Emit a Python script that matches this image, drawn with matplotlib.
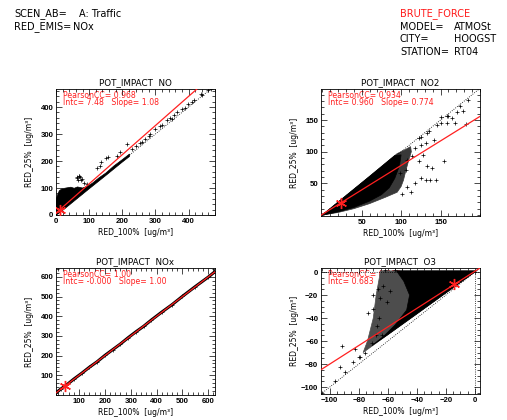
import matplotlib
matplotlib.use('Agg')
import matplotlib.pyplot as plt
from matplotlib.ticker import AutoMinorLocator

plt.rcParams['font.family'] = ['DejaVu Sans']

# ---------------- data ----------------
header_left = [("SCEN_AB=", "A: Traffic"), ("RED_EMIS=", "NOx")]
header_right_title = "BRUTE_FORCE"
header_right = [("MODEL=", "ATMOSt"), ("CITY=", "HOOGST"), ("STATION=", "RT04")]

titles = ["POT_IMPACT  NO", "POT_IMPACT  NO2", "POT_IMPACT  NOx", "POT_IMPACT  O3"]
pearson = ["0.968", "0.934", "1.00", "0.885"]
intc_txt = ["7.48", "0.960", "-0.000", "0.683"]
slope_txt = ["1.08", "0.774", "1.00", "0.807"]
intc_val = [7.48, 0.960, -0.000, 0.683]
slope_val = [1.08, 0.774, 1.00, 0.807]
star_x = [12, 24.3, 45, -14.2]
star_y = [20, 19.8, 44, -10.8]

# NO: dense cloud (envelope) and scattered points
no_core_x = [0, 0, 4, 10, 18, 30, 45, 55, 65, 80, 95, 110, 130, 150, 175, 200, 222, 222, 200, 150, 100, 50, 20, 5]
no_core_y = [0, 55, 72, 90, 97, 100, 103, 99, 104, 100, 106, 118, 138, 155, 182, 205, 226, 217, 196, 146, 97, 47, 17, 3]
no_pts_x = [158, 150, 71, 63, 68, 75, 62, 70, 78, 66, 85, 95, 137, 132, 125, 214, 193, 183, 230, 240,
            254, 260, 270, 280, 285, 300, 315, 320, 336, 345, 350, 356, 366, 380, 390, 397, 410, 417, 437, 440, 458, 468]
no_pts_y = [216, 212, 139, 137, 146, 130, 140, 143, 135, 128, 118, 115, 195, 183, 175, 263, 232, 220, 243, 255,
            268, 272, 283, 292, 300, 318, 330, 332, 352, 358, 356, 372, 380, 392, 396, 410, 418, 428, 448, 444, 462, 466]

# NO2
no2_outer_x = [0.5, 60, 95, 105, 112, 113, 110, 106, 103, 100, 95, 80, 60, 40, 20, 5]
no2_outer_y = [0.5, 61, 97, 103, 108, 100, 88, 70, 55, 45, 36, 28, 18, 10, 4, 1]
no2_core_x = [0.5, 60, 92, 100, 98, 92, 85, 75, 60, 40, 20, 5]
no2_core_y = [0.5, 61, 94, 95, 78, 58, 43, 32, 22, 12, 5, 1]
no2_pts_x = [150, 158, 168, 178, 171, 165, 158, 150, 182, 142, 131, 123, 125, 118, 114, 108, 123, 133, 139,
             154, 131, 137, 144, 125, 118, 108, 112, 101, 99, 106, 125, 135, 145, 160, 175, 185, 133, 128]
no2_pts_y = [146, 146, 146, 164, 162, 154, 156, 155, 143, 119, 114, 122, 111, 106, 93, 87, 85, 77, 74,
             85, 55, 55, 55, 58, 50, 45, 37, 34, 66, 71, 124, 133, 142, 157, 172, 182, 130, 95]

# NOx
nox_x = [12, 30, 50, 80, 110, 140, 170, 200, 230, 260, 290, 320, 350, 380, 420, 460, 500, 550, 600, 630]
nox_y = [12, 31, 49, 81, 110, 141, 169, 201, 230, 259, 291, 321, 349, 381, 421, 459, 501, 551, 599, 631]

# O3
o3_outer_x = [1, -65, -68, -70, -74, -77, -60, -40, -20]
o3_outer_y = [1, 1, -20, -40, -60, -70, -54.5, -36.4, -18.2]
o3_core_x = [1, -54, -49, -45, -47, -55, -63, -71, -60, -40, -20]
o3_core_y = [1, 1, -8, -20, -33, -46, -56, -64, -54.5, -36.4, -18.2]
o3_pts_x = [-91.5, -92.9, -82.6, -79.6, -73.4, -70, -67.2, -65.4, -67, -63, -60.3, -58.5, -64.2, -68.1,
            -96.4, -89.5, -83.7, -79.1, -75.7, -62, -55, -50, -71, -66, -70]
o3_pts_y = [-64.6, -82.8, -66.6, -74.1, -35.6, -31.8, -47.2, -22.6, -14.5, -12.4, -26, -16.8, -54.4, -55,
            -95, -86.6, -78.5, -73.5, -70.5, 1.5, 2, 1, -62, -40, -20]

# ---------------- figure ----------------
W, H = 507, 420
fig = plt.figure(figsize=(W / 100, H / 100), dpi=100)

def fx(px):
    return px / W

def fy(py):
    return 1 - py / H

hs = 7.0
fig.text(fx(14), fy(14), header_left[0][0], fontsize=hs, va='center')
fig.text(fx(79), fy(14), header_left[0][1], fontsize=hs, va='center')
fig.text(fx(14), fy(26.7), header_left[1][0], fontsize=hs, va='center')
fig.text(fx(73), fy(26.7), header_left[1][1], fontsize=hs, va='center')
fig.text(fx(400), fy(14), header_right_title, fontsize=hs, va='center', color='#ff1a1a')
for i, (lab, val) in enumerate(header_right):
    yy = 26.7 + i * 12.8
    fig.text(fx(400), fy(yy), lab, fontsize=hs, va='center')
    fig.text(fx(454), fy(yy), val, fontsize=hs, va='center')

boxes = [(56, 89, 215, 215), (321, 89, 480, 216), (56, 268, 215, 395), (321, 268, 480, 394)]
xlims = [(0, 480), (-1.5, 200), (11, 626), (-106, 3.5)]
ylims = [(0, 467), (-1.5, 199), (0, 645), (-106, 3.5)]
xticks = [[0, 100, 200, 300, 400], [50, 100, 150], [100, 200, 300, 400, 500, 600], [-100, -80, -60, -40, -20, 0]]
yticks = [[0, 100, 200, 300, 400], [50, 100, 150], [100, 200, 300, 400, 500, 600], [-100, -80, -60, -40, -20, 0]]
minors = [5, 5, 5, 4]

axes = []
for i, (l, t, r, b) in enumerate(boxes):
    ax = fig.add_axes([fx(l), fy(b), (r - l) / W, (b - t) / H])
    axes.append(ax)
    ax.set_xlim(xlims[i])
    ax.set_ylim(ylims[i])
    ax.set_xticks(xticks[i])
    ax.set_yticks(yticks[i])
    ax.xaxis.set_minor_locator(AutoMinorLocator(minors[i]))
    ax.yaxis.set_minor_locator(AutoMinorLocator(minors[i]))
    ax.tick_params(which='both', direction='in', top=True, right=True, width=0.5, pad=2)
    ax.tick_params(which='major', length=4)
    ax.tick_params(which='minor', length=2)
    for lab in ax.get_xticklabels() + ax.get_yticklabels():
        lab.set_fontweight('bold')
        lab.set_family('Liberation Sans')
        lab.set_fontsize(5.6)
    for s in ax.spines.values():
        s.set_linewidth(0.6)
    ax.set_title(titles[i], fontsize=6.3, pad=2.8)
    ax.set_xlabel('RED_100%  [ug/m³]', fontsize=5.5)
    ax.set_ylabel('RED_25%  [ug/m³]', fontsize=5.5)
    ax.xaxis.set_label_coords(0.5, -0.1)
    ax.yaxis.set_label_coords(-0.14, 0.5)
    ax.text(0.047, 0.95, 'PearsonCC= ' + pearson[i], transform=ax.transAxes,
            color='#ff2020', fontsize=5.6, va='center', zorder=1)
    ax.text(0.047, 0.89, 'Intc= ' + intc_txt[i] + '   Slope= ' + slope_txt[i],
            transform=ax.transAxes, color='#ff2020', fontsize=5.6, va='center', zorder=1)

pk = dict(marker='+', color='k', ms=3.5, mew=0.5, ls='none', zorder=2)

# NO
ax = axes[0]
ax.fill(no_core_x, no_core_y, color='k', lw=0.5, zorder=2)
ax.plot(no_pts_x, no_pts_y, **pk)
# NO2
ax = axes[1]
ax.fill(no2_outer_x, no2_outer_y, color='0.22', lw=0.5, zorder=2)
ax.fill(no2_core_x, no2_core_y, color='k', lw=0.5, zorder=2)
ax.plot(no2_pts_x, no2_pts_y, **pk)
# NOx
ax = axes[2]
ax.plot(nox_x, nox_y, color='k', lw=2.2, zorder=2)
ax.plot(nox_x, nox_y, **pk)
# O3
ax = axes[3]
ax.fill(o3_outer_x, o3_outer_y, color='0.3', lw=0.5, zorder=2)
ax.fill(o3_core_x, o3_core_y, color='k', lw=0.5, zorder=2)
ax.plot(o3_pts_x, o3_pts_y, **pk)
ax.axhline(0, color='k', ls=':', lw=0.6, zorder=3)
ax.axvline(0, color='k', ls=':', lw=0.6, zorder=3)

for i, ax in enumerate(axes):
    x0, x1 = xlims[i]
    lo = max(x0, ylims[i][0])
    hi = min(x1, ylims[i][1])
    ax.plot([lo, hi], [lo, hi], color='k', ls=':', lw=0.6, zorder=3)
    ax.plot([x0, x1], [intc_val[i] + slope_val[i] * x0, intc_val[i] + slope_val[i] * x1],
            color='#ff2020', lw=0.9, zorder=4)
    ax.plot([star_x[i]], [star_y[i]], marker=(6, 2, 0), color='#ff2020', ms=8, mew=1.0,
            ls='none', zorder=5)
    ax.set_xlim(xlims[i])
    ax.set_ylim(ylims[i])

fig.savefig('out.png', dpi=100)
